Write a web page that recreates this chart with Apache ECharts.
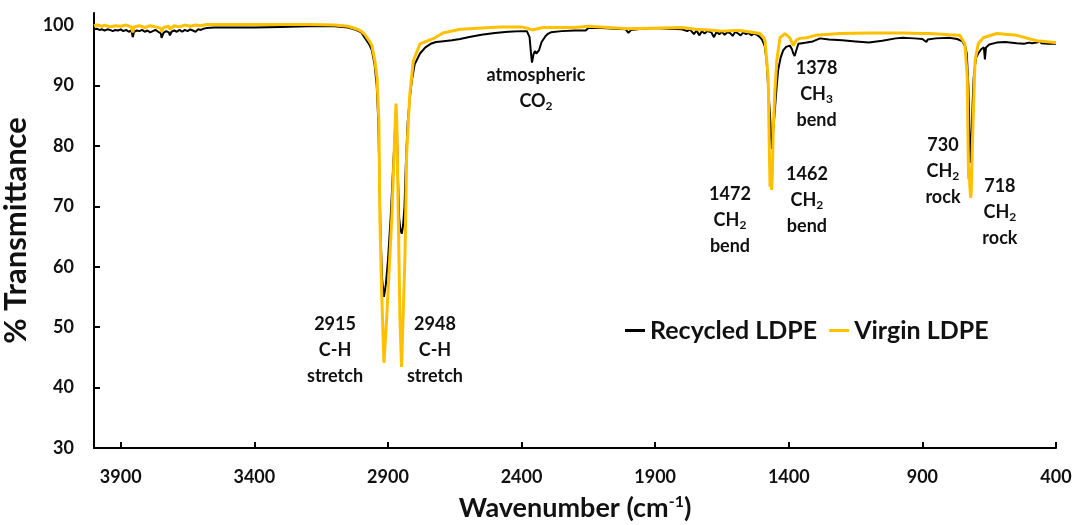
<!DOCTYPE html>
<html><head><meta charset="utf-8">
<script src="https://cdn.jsdelivr.net/npm/echarts@6/dist/echarts.min.js"></script>
<style>html,body{margin:0;padding:0;background:#fff}#c{width:1077px;height:525px}</style>
</head><body><div id="c"></div>
<script>
const seriesNames = ['Recycled LDPE', 'Virgin LDPE'];

const recycledWn = [4000,3990,3980,3970,3960,3950,3940,3930,3920,3910,3900,3890,3880,3870,3860,3855,3850,3840,3830,3820,3810,3800,3790,3780,3770,3760,3750,3747,3740,3730,3720,3716,3710,3700,3690,3680,3670,3660,3650,3640,3630,3620,3610,3600,3590,3580,3550,3500,3450,3443,3435,3400,3300,3200,3100,3050,3020,3000,2985,2970,2960,2950,2942,2936,2932,2928,2922,2915,2908,2900,2890,2880,2873,2870,2866,2862,2858,2853,2848,2843,2838,2833,2826,2818,2810,2800,2780,2760,2740,2720,2700,2660,2630,2600,2550,2500,2450,2400,2380,2370,2365,2361,2355,2350,2345,2340,2335,2325,2310,2300,2290,2250,2200,2160,2150,2100,2050,2010,2000,1990,1950,1900,1850,1800,1780,1770,1755,1745,1735,1725,1715,1705,1690,1680,1670,1660,1650,1640,1630,1620,1610,1600,1590,1580,1570,1560,1550,1540,1530,1520,1510,1500,1490,1483,1476,1470,1466,1463,1459,1452,1446,1440,1430,1421,1410,1396,1388,1383,1378,1372,1364,1350,1333,1310,1283,1250,1200,1150,1100,1050,1000,973,930,900,885,880,850,800,770,750,740,734,728,724,720,716,712,708,700,691,680,670,666,662,650,622,590,547,520,500,490,472,460,455,430,400];
const recycledT = [99.3,99.4,99.2,99.3,99.1,99.3,99.2,99.0,99.2,99.1,99.3,99.0,99.2,98.9,99.1,98.0,98.9,99.1,99.0,99.2,98.9,99.1,98.8,99.0,99.2,98.9,98.6,97.9,98.7,99.0,98.8,98.3,98.9,99.1,98.9,99.2,98.9,99.2,99.0,99.3,99.1,98.9,99.3,99.2,99.4,99.5,99.6,99.6,99.6,99.3,99.6,99.6,99.7,99.8,99.8,99.6,99.2,98.8,97.8,96.8,95.8,93.5,90,84,75,66,58,55,57,61,68,77,83,85.5,82,74,68,66,65.5,67,70,77,84,88,91,93.5,95.3,96.3,96.9,97.2,97.3,97.5,97.7,98.0,98.4,98.7,98.9,99.0,99.0,98.0,95.5,93.8,95.2,95.7,95.3,95.0,95.8,97.2,98.2,98.6,98.8,99.0,99.1,99.1,99.5,99.5,99.4,99.3,98.7,99.2,99.4,99.5,99.4,99.3,99.0,99.3,98.5,99.1,98.3,99.0,98.6,99.0,98.8,98.0,98.9,98.5,98.9,98.4,98.8,98.7,98.2,98.9,98.6,98.3,98.8,98.5,98.7,98.3,98.6,98.4,98.1,97.6,96.5,94.1,89,85,81,79.5,82,86,89.5,92.5,94.7,95.8,96.4,96.6,96.0,95.3,94.9,95.8,96.9,97.0,97.1,97.3,97.8,97.6,97.5,97.3,97.1,97.4,97.8,97.9,97.8,97.7,97.2,97.6,97.8,97.9,97.7,97.3,96.5,95.3,90,83,77.2,81,87,91.3,94.5,95.3,96.0,96.3,94.3,96.3,96.8,97.1,97.2,97.0,96.9,97.1,97.0,97.1,97.4,97.0,96.9,96.9];

const virginWn = [4000,3990,3970,3960,3940,3920,3900,3880,3860,3855,3850,3830,3810,3790,3770,3750,3747,3740,3720,3716,3700,3680,3660,3640,3620,3600,3580,3500,3400,3300,3200,3100,3050,3020,3000,2986,2970,2960,2949,2941,2934,2930,2924,2915,2905,2886,2876,2870,2867,2861,2855,2849,2836,2830,2818,2805,2780,2724,2694,2630,2481,2400,2380,2360,2340,2320,2200,2150,2000,1800,1750,1700,1650,1600,1583,1550,1520,1508,1495,1489,1477,1473,1470,1467,1464,1461,1458,1452,1445,1433,1414,1396,1383,1377,1370,1358,1333,1300,1208,1100,973,900,872,800,760,741,732,729,727,725,722,719,717,713,709,703,691,672,622,547,472,404,400];
const virginT = [99.9,100.0,99.8,100.0,99.7,99.9,99.8,100.0,99.7,98.8,99.7,99.9,99.6,99.9,99.7,99.5,98.9,99.6,99.8,99.3,99.9,99.7,100.0,99.8,100.0,99.9,100.1,100.1,100.1,100.1,100.1,100.0,99.8,99.4,99.0,98.4,97.4,96.6,94.1,91.3,84.3,67.7,56.6,44.1,51.2,67.7,79.8,87.0,84.2,67.7,51.2,43.4,62.2,78.7,88.6,94.1,96.9,97.9,98.7,99.3,99.7,99.7,99.5,99.2,99.4,99.6,99.6,99.8,99.4,99.6,99.3,99.2,99.0,99.1,99.1,98.9,98.7,98.6,98.0,97.4,91.3,80,73.2,75.5,72.7,76,83.1,89,94.1,97.9,98.6,97.9,96.6,97.1,97.6,97.8,97.9,98.3,98.6,98.7,98.7,98.6,98.6,98.4,98.3,96.9,91.3,80,74.5,76.5,73,71.4,72.5,80,85.9,94.1,96.9,97.9,98.6,98.3,97.4,97.1,97.1];

const xTicks = [3900, 3400, 2900, 2400, 1900, 1400, 900, 400];
const yTicks = [30, 40, 50, 60, 70, 80, 90, 100];

const annoWn = [3098, 2724, 2346, 1296, 1620, 1332, 823, 610];
const annoT = [46.2, 46.2, 89.6, 88.6, 67.7, 71.0, 75.9, 69.1];
const annoText = ['2915\nC-H\nstretch', '2948\nC-H\nstretch', 'atmospheric\nCO_2', '1378\nCH_3\nbend', '1472\nCH_2\nbend', '1462\nCH_2\nbend', '730\nCH_2\nrock', '718\nCH_2\nrock'];

const FONT = 'Lato';
const TXT = '#111';

function toRich(s) {
  return s.split('\n').map(function (line) {
    const k = line.indexOf('_');
    if (k < 0) return '{n|' + line + '}';
    return '{n|' + line.slice(0, k) + '}{s|' + line.slice(k + 1) + '}';
  }).join('\n');
}

const chart = echarts.init(document.getElementById('c'), null, { renderer: 'canvas' });
chart.setOption({
  animation: false,
  backgroundColor: '#fff',
  grid: { left: 94, right: 21, top: 13, bottom: 77, containLabel: false, outerBoundsMode: 'none' },
  legend: {
    data: seriesNames,
    left: 620, top: 313,
    icon: 'rect', itemWidth: 20, itemHeight: 3, itemGap: 12,
    textStyle: { fontFamily: FONT, fontSize: 25, fontWeight: 'bold', color: TXT }
  },
  xAxis: {
    type: 'value', inverse: true, min: 400, max: 4000,
    splitLine: { show: false },
    axisLine: { lineStyle: { color: '#000', width: 2 } },
    axisTick: { inside: true, length: 6, customValues: xTicks, lineStyle: { color: '#000', width: 2 } },
    axisLabel: { customValues: xTicks, margin: 20, fontFamily: FONT, fontSize: 18, fontWeight: 'bold', color: TXT,
      formatter: function (v) { return String(v); } },
    name: '{a|Wavenumber (cm}{b|-1}{a|)}',
    nameLocation: 'middle', nameGap: 44,
    nameTextStyle: {
      rich: {
        a: { fontFamily: FONT, fontSize: 27, fontWeight: 'bold', color: TXT, lineHeight: 32 },
        b: { fontFamily: FONT, fontSize: 16, fontWeight: 'bold', color: TXT, lineHeight: 20, padding: [0, 0, 12, 0] }
      }
    }
  },
  yAxis: {
    type: 'value', min: 30, max: 102,
    splitLine: { show: false },
    axisLine: { lineStyle: { color: '#000', width: 2 } },
    axisTick: { inside: true, length: 6, customValues: yTicks, lineStyle: { color: '#000', width: 2 } },
    axisLabel: { customValues: yTicks, margin: 20, fontFamily: FONT, fontSize: 18, fontWeight: 'bold', color: TXT },
    name: '% Transmittance',
    nameLocation: 'middle', nameGap: 44, nameRotate: 90,
    nameTextStyle: { fontFamily: FONT, fontSize: 31, fontWeight: 'bold', color: TXT }
  },
  series: [
    {
      name: seriesNames[0], type: 'line', showSymbol: false, symbol: 'none',
      color: '#000000',
      lineStyle: { color: '#000000', width: 2 },
      data: recycledWn.map(function (w, i) { return [w, recycledT[i]]; }),
      z: 2
    },
    {
      name: seriesNames[1], type: 'line', showSymbol: false, symbol: 'none',
      color: '#FFC000',
      lineStyle: { color: '#FFC000', width: 3 },
      data: virginWn.map(function (w, i) { return [w, virginT[i]]; }),
      z: 3
    },
    {
      name: 'annotations', type: 'scatter', symbolSize: 0, silent: true,
      itemStyle: { color: '#000', opacity: 1 },
      data: annoWn.map(function (w, i) { return { value: [w, annoT[i]], name: annoText[i] }; }),
      label: {
        show: true, position: 'inside', align: 'center', color: TXT, opacity: 1,
        textBorderWidth: 0,
        formatter: function (p) { return toRich(p.name); },
        rich: {
          n: { fontFamily: FONT, fontSize: 18, fontWeight: 'bold', color: TXT, lineHeight: 26, align: 'center' },
          s: { fontFamily: FONT, fontSize: 12, fontWeight: 'bold', color: TXT, lineHeight: 16, padding: [10, 0, 0, 0] }
        }
      },
      z: 5
    }
  ]
});
</script>
</body></html>
